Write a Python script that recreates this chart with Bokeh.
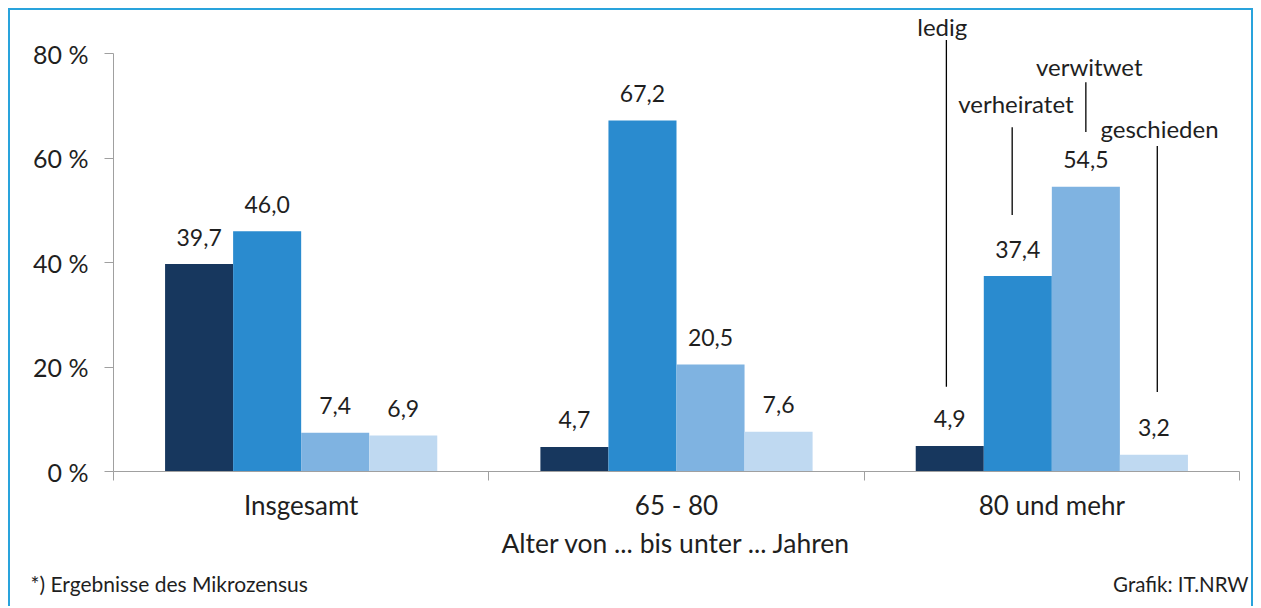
from bokeh.plotting import figure
from bokeh.layouts import column
from bokeh.models import Range1d, FixedTicker, ColumnDataSource
from bokeh.core.properties import value
from bokeh.embed import file_html
from bokeh.resources import INLINE

# ---------------- data ----------------
categories = ["Insgesamt", "65 - 80", "80 und mehr"]
series_names = ["ledig", "verheiratet", "verwitwet", "geschieden"]
ledig = [39.7, 4.7, 4.9]
verheiratet = [46.0, 67.2, 37.4]
verwitwet = [7.4, 20.5, 54.5]
geschieden = [6.9, 7.6, 3.2]
y_ticks = [0, 20, 40, 60, 80]
y_tick_labels = ["0 %", "20 %", "40 %", "60 %", "80 %"]
x_title = "Alter von ... bis unter ... Jahren"
footnote = "*) Ergebnisse des Mikrozensus"
source_note = "Grafik: IT.NRW"

# ---------------- style ----------------
colors = ["#17375E", "#2A8BCF", "#7FB3E1", "#BFD9F1"]
text_color = "#1F1F1F"
axis_color = "#A0A0A0"
border_color = "#29A3DC"
FONT = "Lato"
bar_w = 0.1813

# callout layout for the last group (data units)
callout_text_y = [85.2, 70.5, 77.5, 65.6]
callout_line_top = [82.6, 65.9, 74.5, 62.3]
callout_line_bottom = [16.2, 49.1, 65.0, 15.2]
callout_line_dx = [-0.009, -0.015, 0.0, 0.009]
callout_text_dx = [-0.02, -0.005, 0.009, 0.015]

W = 1241
p = figure(width=W, height=555, output_backend="svg", toolbar_location=None,
           x_range=Range1d(0, 3), y_range=Range1d(0, 87.85),
           min_border_left=103, min_border_right=12, min_border_top=2, min_border_bottom=94)
p.outline_line_color = None
p.xgrid.visible = False
p.ygrid.visible = False

series = [ledig, verheiratet, verwitwet, geschieden]
for j, vals in enumerate(series):
    xs = [i + 0.5 + (j - 1.5) * bar_w for i in range(len(categories))]
    src = ColumnDataSource(dict(x=xs, top=vals,
                                lab=[("%.1f" % v).replace(".", ",") for v in vals]))
    p.vbar(x="x", top="top", width=bar_w, source=src, fill_color=colors[j], line_color=None)
    p.text(x="x", y="top", text="lab", source=src, text_align="center",
           text_baseline="middle", y_offset=-27, text_font=value(FONT),
           text_font_size="23px", text_color=text_color)

# callouts for the series names (last group)
last = len(categories) - 1
for j, name in enumerate(series_names):
    xc = last + 0.5 + (j - 1.5) * bar_w
    p.segment(x0=[xc + callout_line_dx[j]], y0=[callout_line_bottom[j]],
              x1=[xc + callout_line_dx[j]], y1=[callout_line_top[j]],
              line_color="#000000", line_width=1.3)
    p.text(x=[xc + callout_text_dx[j]], y=[callout_text_y[j]], text=[name],
           text_align="center", text_baseline="middle", text_font=value(FONT),
           text_font_size="24px", text_color=text_color)

# axes
xa = p.xaxis[0]
xa.ticker = FixedTicker(ticks=[i + 0.5 for i in range(len(categories))],
                        minor_ticks=list(range(len(categories) + 1)))
xa.major_label_overrides = {i + 0.5: c for i, c in enumerate(categories)}
xa.major_tick_out = 0
xa.major_tick_in = 0
xa.minor_tick_out = 9
xa.minor_tick_in = 0
xa.minor_tick_line_color = axis_color
xa.axis_line_color = axis_color
xa.major_label_text_font = FONT
xa.major_label_text_font_size = "26px"
xa.major_label_text_color = text_color
xa.major_label_standoff = 8
xa.axis_label = x_title
xa.axis_label_text_font = FONT
xa.axis_label_text_font_style = "normal"
xa.axis_label_text_font_size = "26.5px"
xa.axis_label_text_color = text_color
xa.axis_label_standoff = 3

ya = p.yaxis[0]
ya.ticker = FixedTicker(ticks=y_ticks, minor_ticks=[])
ya.major_label_overrides = {t: l for t, l in zip(y_ticks, y_tick_labels)}
ya.bounds = (0, 80)
ya.major_tick_out = 9
ya.major_tick_in = 0
ya.major_tick_line_color = axis_color
ya.axis_line_color = axis_color
ya.major_label_text_font = FONT
ya.major_label_text_font_size = "25px"
ya.major_label_text_color = text_color
ya.major_label_standoff = 16

# footer strip with the notes
FH = 41
pf = figure(width=W, height=FH, output_backend="svg", toolbar_location=None,
            x_range=Range1d(0, W), y_range=Range1d(0, FH), min_border=0,
            x_axis_type=None, y_axis_type=None)
pf.frame_align = False
pf.outline_line_color = None
pf.xgrid.visible = False
pf.ygrid.visible = False
pf.text(x=[20], y=[FH - 18], text=[footnote], text_align="left", text_baseline="middle",
        text_font=value(FONT), text_font_size="21px", text_color=text_color)
pf.text(x=[W - 3], y=[FH - 18], text=[source_note], text_align="right",
        text_baseline="middle", text_font=value(FONT), text_font_size="20.5px",
        text_color=text_color)

layout = column(p, pf, spacing=0,
                styles={"margin-left": "8px", "margin-top": "8px",
                        "border-top": "2px solid " + border_color,
                        "border-left": "2px solid " + border_color,
                        "border-right": "2px solid " + border_color})

open("out.html", "w").write(file_html(layout, INLINE))
